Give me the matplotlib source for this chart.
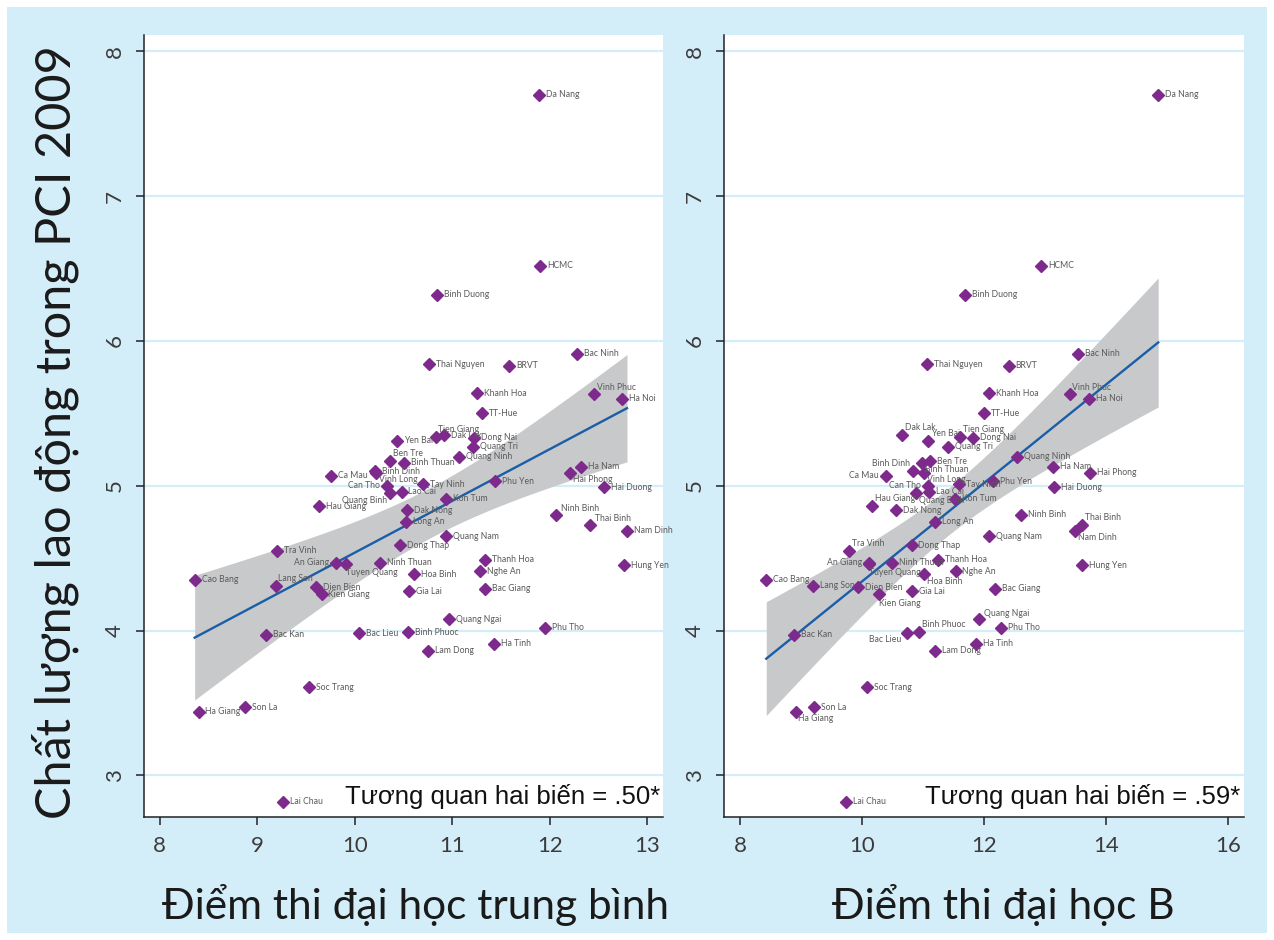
import numpy as np
import matplotlib
matplotlib.use("Agg")
import matplotlib.pyplot as plt
from matplotlib.patches import Rectangle

plt.rcParams['font.family'] = ['Lato', 'Noto Sans', 'DejaVu Sans']

provinces = [
    "Da Nang", "HCMC", "Binh Duong", "Bac Ninh", "Thai Nguyen", "BRVT", "Khanh Hoa",
    "Vinh Phuc", "Ha Noi", "TT-Hue", "Tien Giang", "Dak Lak", "Dong Nai", "Yen Bai",
    "Quang Tri", "Quang Ninh", "Ben Tre", "Binh Thuan", "Binh Dinh", "Vinh Long",
    "Ca Mau", "Ha Nam", "Hai Phong", "Can Tho", "Tay Ninh", "Phu Yen", "Hai Duong",
    "Lao Cai", "Quang Binh", "Kon Tum", "Hau Giang", "Dak Nong", "Ninh Binh", "Long An",
    "Thai Binh", "Nam Dinh", "Quang Nam", "Dong Thap", "Tra Vinh", "An Giang",
    "Tuyen Quang", "Ninh Thuan", "Thanh Hoa", "Nghe An", "Hung Yen", "Hoa Binh",
    "Cao Bang", "Lang Son", "Dien Bien", "Kien Giang", "Gia Lai", "Bac Giang",
    "Quang Ngai", "Phu Tho", "Bac Kan", "Bac Lieu", "Binh Phuoc", "Ha Tinh",
    "Lam Dong", "Soc Trang", "Son La", "Ha Giang", "Lai Chau",
]

# chat luong lao dong (PCI 2009)
labor = [
    7.70, 6.52, 6.32, 5.91, 5.84, 5.83, 5.64,
    5.63, 5.60, 5.50, 5.34, 5.35, 5.33, 5.31,
    5.27, 5.20, 5.17, 5.16, 5.10, 5.09,
    5.07, 5.13, 5.09, 5.00, 5.01, 5.03, 4.99,
    4.96, 4.95, 4.91, 4.86, 4.83, 4.80, 4.75,
    4.73, 4.69, 4.65, 4.59, 4.55, 4.47,
    4.46, 4.47, 4.49, 4.41, 4.45, 4.39,
    4.35, 4.31, 4.30, 4.25, 4.27, 4.29,
    4.08, 4.02, 3.97, 3.98, 3.99, 3.91,
    3.86, 3.61, 3.47, 3.44, 2.82,
]

# diem thi dai hoc trung binh
score_avg = [
    11.89, 11.90, 10.84, 12.28, 10.76, 11.58, 11.25,
    12.45, 12.74, 11.30, 10.83, 10.92, 11.22, 10.43,
    11.21, 11.07, 10.36, 10.51, 10.21, 10.22,
    9.76, 12.32, 12.21, 10.33, 10.70, 11.44, 12.55,
    10.48, 10.36, 10.94, 9.63, 10.54, 12.06, 10.53,
    12.41, 12.79, 10.94, 10.46, 9.20, 9.81,
    9.91, 10.26, 11.34, 11.28, 12.76, 10.61,
    8.36, 9.19, 9.60, 9.66, 10.56, 11.34,
    10.97, 11.95, 9.09, 10.04, 10.55, 11.43,
    10.75, 9.53, 8.88, 8.40, 9.27,
]

# diem thi dai hoc khoi B
score_b = [
    14.85, 12.93, 11.69, 13.54, 11.07, 12.40, 12.08,
    13.40, 13.72, 12.00, 11.60, 10.65, 11.81, 11.08,
    11.41, 12.53, 11.11, 10.98, 10.83, 11.01,
    10.39, 13.12, 13.74, 11.08, 11.59, 12.14, 13.15,
    11.10, 10.89, 11.52, 10.17, 10.55, 12.60, 11.19,
    13.60, 13.49, 12.08, 10.81, 9.79, 10.11,
    10.12, 10.49, 11.24, 11.53, 13.60, 11.01,
    8.43, 9.19, 9.94, 10.28, 10.82, 12.17,
    11.91, 12.27, 8.89, 10.74, 10.94, 11.86,
    11.19, 10.08, 9.22, 8.91, 9.73,
]

# label placement (clock positions), default 3 o'clock
pos_left = {
    "Tien Giang": 1, "Ben Tre": 1, "Vinh Long": 4, "Hai Phong": 4, "Vinh Phuc": 1,
    "Can Tho": 9, "Quang Binh": 7, "An Giang": 9, "Tuyen Quang": 5, "Lang Son": 1,
    "Ninh Binh": 2, "Thai Binh": 2,
}
pos_right = {
    "Vinh Phuc": 1, "Dak Lak": 1, "Yen Bai": 1, "Tien Giang": 1, "Binh Thuan": 4,
    "Binh Dinh": 11, "Ca Mau": 9, "Vinh Long": 4, "Can Tho": 9, "Quang Binh": 4,
    "Hau Giang": 1, "Thai Binh": 1, "Nam Dinh": 4, "Tra Vinh": 1, "An Giang": 9,
    "Tuyen Quang": 5, "Hoa Binh": 4, "Kien Giang": 5, "Quang Ngai": 2, "Bac Lieu": 8,
    "Binh Phuoc": 1, "Ha Giang": 4,
}
clock = {
    3: (5, 0, 'left', 'center'), 9: (-5, 0, 'right', 'center'),
    12: (0, 4, 'center', 'bottom'), 6: (0, -4, 'center', 'top'),
    1: (2, 2, 'left', 'bottom'), 2: (4, 1, 'left', 'bottom'),
    4: (2, -2, 'left', 'top'), 5: (0, -3, 'left', 'top'),
    7: (-2, -2, 'right', 'top'), 8: (-4, -1, 'right', 'top'),
    10: (-4, 1, 'right', 'bottom'), 11: (-2, 2, 'right', 'bottom'),
}

bg = '#d3edf9'
purple = '#7d2a8c'
line_blue = '#1a5ea8'
band = '#c8c9cb'


def lfitci(x, y, n=120):
    x = np.asarray(x)
    y = np.asarray(y)
    b, a = np.polyfit(x, y, 1)
    xs = np.linspace(x.min(), x.max(), n)
    yhat = a + b * xs
    resid = y - (a + b * x)
    s = np.sqrt(np.sum(resid ** 2) / (len(x) - 2))
    se = s * np.sqrt(1 / len(x) + (xs - x.mean()) ** 2 / np.sum((x - x.mean()) ** 2))
    t = 2.0
    return xs, yhat, yhat - t * se, yhat + t * se


def panel(ax, xvals, positions, xlim, xticks, corr_text):
    xs, yhat, lo, hi = lfitci(xvals, labor)
    ax.fill_between(xs, lo, hi, color=band, lw=0, zorder=2)
    ax.plot(xs, yhat, color=line_blue, lw=1.7, zorder=3)
    ax.plot(xvals, labor, 'D', color=purple, ms=6.6, mec=purple, zorder=4, ls='none')
    for name, xv, yv in zip(provinces, xvals, labor):
        dx, dy, ha, va = clock[positions.get(name, 3)]
        ax.annotate(name, (xv, yv), xytext=(dx, dy), textcoords='offset points',
                    ha=ha, va=va, fontsize=6.2, color='#5a5a5a', zorder=5)
    ax.set_xlim(*xlim)
    ax.set_ylim(2.713, 8.112)
    ax.set_xticks(xticks)
    ax.set_xticklabels([str(t) for t in xticks])
    ax.set_yticks([3, 4, 5, 6, 7, 8])
    ax.set_yticklabels(['3', '4', '5', '6', '7', '8'], rotation=90, va='center')
    ax.yaxis.grid(True, color=bg, lw=1.6)
    ax.set_axisbelow(True)
    for side in ['top', 'right']:
        ax.spines[side].set_visible(False)
    for side in ['left', 'bottom']:
        ax.spines[side].set_color('#222222')
        ax.spines[side].set_linewidth(1.1)
    ax.tick_params(axis='both', length=6, width=1.1, color='#222222',
                   labelsize=16, labelcolor='#3c3c3c', pad=8)
    ax.text(0.994, 0.026, corr_text, transform=ax.transAxes, ha='right', va='center',
            fontsize=18.5, color='#111111', family=['Liberation Sans', 'DejaVu Sans'])


fig = plt.figure(figsize=(12.74, 9.40), dpi=100, facecolor='white')
fig.patches.append(Rectangle((7 / 1274, 7 / 940), 1 - 14 / 1274, 1 - 14 / 940,
                             transform=fig.transFigure, facecolor=bg, edgecolor='none',
                             zorder=-10))

ax1 = fig.add_axes([144 / 1274, 123 / 940, 519 / 1274, 782 / 940])
ax2 = fig.add_axes([724 / 1274, 123 / 940, 519.5 / 1274, 782 / 940])

panel(ax1, score_avg, pos_left, (7.841, 13.159), [8, 9, 10, 11, 12, 13],
      'Tương quan hai biến = .50*')
panel(ax2, score_b, pos_right, (7.738, 16.247), [8, 10, 12, 14, 16],
      'Tương quan hai biến = .59*')

fig.text(415 / 1274, 1 - 905 / 940, 'Điểm thi đại học trung bình', ha='center', va='center',
         fontsize=30.5, color='#1a1a1a')
fig.text(1003 / 1274, 1 - 905 / 940, 'Điểm thi đại học B', ha='center', va='center',
         fontsize=30.5, color='#1a1a1a')
fig.text(55 / 1274, 1 - 432 / 940, 'Chất lượng lao động trong PCI 2009', ha='center',
         va='center', rotation=90, fontsize=35, color='#1a1a1a')

fig.savefig('out.png', dpi=100, facecolor=fig.get_facecolor())
